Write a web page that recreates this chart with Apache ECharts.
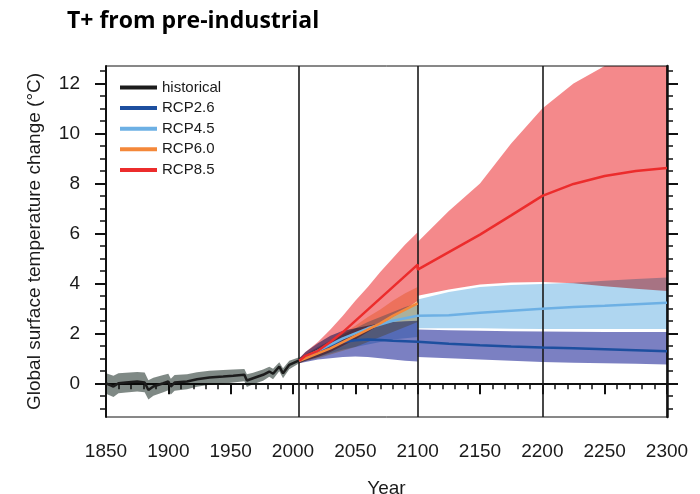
<!DOCTYPE html>
<html>
<head>
<meta charset="utf-8">
<script src="https://cdn.jsdelivr.net/npm/echarts@6/dist/echarts.min.js"></script>
<style>
  html, body { margin: 0; padding: 0; background: #fff; }
  #chart { width: 700px; height: 494px; }
</style>
</head>
<body>
<div id="chart"></div>
<script>
// historical (1850-2005)
var histYears = [1850, 1856, 1860, 1866, 1875, 1881, 1884, 1888, 1896, 1900, 1902, 1905, 1915, 1923, 1933, 1944, 1952, 1961, 1963, 1968, 1976, 1981, 1984, 1989, 1992, 1997, 2005];
var histMid = [0.0, -0.13, 0.0, 0.03, 0.07, 0.03, -0.27, -0.13, 0.0, 0.07, -0.13, 0.03, 0.07, 0.16, 0.23, 0.27, 0.3, 0.34, 0.11, 0.2, 0.34, 0.47, 0.38, 0.67, 0.4, 0.74, 0.92];
var histHi = [0.4, 0.3, 0.4, 0.42, 0.45, 0.43, 0.12, 0.22, 0.33, 0.38, 0.18, 0.33, 0.36, 0.44, 0.5, 0.53, 0.55, 0.57, 0.36, 0.42, 0.55, 0.66, 0.58, 0.84, 0.6, 0.9, 1.04];
var histLo = [-0.42, -0.55, -0.4, -0.37, -0.33, -0.36, -0.65, -0.5, -0.36, -0.28, -0.45, -0.3, -0.24, -0.14, -0.06, -0.02, 0.03, 0.08, -0.15, -0.04, 0.1, 0.26, 0.16, 0.48, 0.2, 0.56, 0.8];

// projections to 2100
var nearYears = [2005, 2010, 2020, 2030, 2040, 2050, 2060, 2070, 2080, 2090, 2100];
var rcp26Mid = [0.9, 1.05, 1.3, 1.5, 1.65, 1.72, 1.75, 1.73, 1.7, 1.68, 1.66];
var rcp26Lo = [0.8, 0.85, 0.95, 1.0, 1.05, 1.07, 1.05, 1.0, 0.95, 0.9, 0.87];
var rcp26Hi = [1.0, 1.25, 1.6, 1.9, 2.1, 2.2, 2.3, 2.4, 2.45, 2.48, 2.5];
var rcp45Mid = [0.9, 1.05, 1.3, 1.55, 1.8, 2.0, 2.2, 2.35, 2.5, 2.6, 2.7];
var rcp45Lo = [0.8, 0.9, 1.05, 1.2, 1.35, 1.45, 1.55, 1.65, 1.75, 1.8, 1.85];
var rcp45Hi = [1.0, 1.15, 1.45, 1.7, 1.95, 2.2, 2.45, 2.65, 2.85, 3.05, 3.2];
var rcp60Mid = [0.9, 1.0, 1.2, 1.4, 1.65, 1.9, 2.15, 2.4, 2.7, 2.95, 3.2];
var rcp60Lo = [0.8, 0.88, 1.0, 1.15, 1.3, 1.45, 1.65, 1.85, 2.05, 2.25, 2.45];
var rcp60Hi = [1.0, 1.12, 1.4, 1.7, 2.0, 2.3, 2.65, 2.95, 3.3, 3.6, 3.85];
var rcp85Mid = [0.9, 1.1, 1.3, 1.65, 2.05, 2.5, 2.95, 3.4, 3.85, 4.3, 4.75];
var rcp85Lo = [0.8, 0.9, 1.05, 1.25, 1.5, 1.75, 2.05, 2.35, 2.65, 2.95, 3.3];
var rcp85Hi = [1.0, 1.25, 1.65, 2.15, 2.7, 3.3, 3.85, 4.45, 5.0, 5.55, 6.05];

// extensions 2100-2300
var longYears = [2100, 2125, 2150, 2175, 2200, 2225, 2250, 2275, 2300];
var rcp26LongMid = [1.64, 1.58, 1.52, 1.47, 1.43, 1.4, 1.36, 1.32, 1.28];
var rcp26LongLo = [1.05, 1.0, 0.95, 0.9, 0.85, 0.82, 0.8, 0.78, 0.75];
var rcp26LongHi = [2.15, 2.12, 2.1, 2.08, 2.07, 2.06, 2.05, 2.05, 2.05];
var rcp45LongMid = [2.62, 2.72, 2.82, 2.9, 2.98, 3.05, 3.1, 3.16, 3.22];
var rcp45LongLo = [2.2, 2.2, 2.2, 2.18, 2.17, 2.17, 2.17, 2.17, 2.17];
var rcp45LongHi = [3.35, 3.65, 3.85, 3.93, 3.97, 4.02, 4.1, 4.17, 4.23];
var rcp85LongMid = [4.55, 5.25, 5.95, 6.72, 7.5, 7.98, 8.3, 8.5, 8.62];
var rcp85LongLo = [3.5, 3.75, 3.95, 4.03, 4.05, 4.0, 3.88, 3.78, 3.69];
var rcp85LongHi = [5.65, 6.9, 8.0, 9.6, 11.0, 12.0, 12.7, 13.3, 13.8];

var yMajorTicks = [0, 2, 4, 6, 8, 10, 12];
var yMinorTicks = [-1, -0.5, 0.5, 1, 1.5, 2.5, 3, 3.5, 4.5, 5, 5.5, 6.5, 7, 7.5, 8.5, 9, 9.5, 10.5, 11, 11.5, 12.5];
var markYears = [2005, 2100, 2200];

var fontName = "'Liberation Sans', Arial, sans-serif";
var yMin = -1.35, yMax = 12.7;

function pairs(xs, ys) {
  return xs.map(function (x, i) { return [x, ys[i]]; });
}

// shaded range, drawn as one polygon with multiply blending
function band(name, years, lo, hi, color) {
  return {
    type: "custom",
    name: name,
    silent: true,
    clip: true,
    blendMode: "multiply",
    z: 1,
    data: years.map(function (y, i) { return [y, lo[i], hi[i]]; }),
    encode: { x: 0, y: [1, 2] },
    renderItem: function (params, api) {
      if (params.dataIndexInside !== 0) return null;
      var top = [], bottom = [];
      for (var i = 0; i < years.length; i++) {
        top.push(api.coord([years[i], hi[i]]));
        bottom.unshift(api.coord([years[i], lo[i]]));
      }
      var cs = params.coordSys;
      return {
        type: "polygon",
        shape: { points: top.concat(bottom) },
        clipPath: { type: "rect", shape: { x: cs.x, y: cs.y, width: cs.width, height: cs.height } },
        style: { fill: color }
      };
    }
  };
}

function line(name, data, color, width, z) {
  return {
    type: "line",
    name: name,
    data: data,
    showSymbol: false,
    symbol: "none",
    silent: true,
    z: z,
    color: color,
    itemStyle: { color: color },
    lineStyle: { color: color, width: width }
  };
}

var chart = echarts.init(document.getElementById("chart"));

var yBase = { type: "value", min: yMin, max: yMax, splitLine: { show: false } };

var option = {
  backgroundColor: "#fff",
  animation: false,
  title: {
    text: "T+ from pre-industrial",
    left: 67,
    top: 10,
    padding: 0,
    textStyle: { fontFamily: "'Open Sans', Lato, sans-serif", fontWeight: "bold", fontSize: 23, color: "#000" }
  },
  grid: {
    left: 106, right: 33, top: 66, bottom: 77,
    outerBoundsMode: "none",
    show: true, borderColor: "#111", borderWidth: 1, backgroundColor: "transparent"
  },
  legend: {
    orient: "vertical",
    left: 120,
    top: 79,
    padding: 0,
    icon: "rect",
    itemWidth: 37,
    itemHeight: 4,
    itemGap: 3.6,
    selectedMode: false,
    data: ["historical", "RCP2.6", "RCP4.5", "RCP6.0", "RCP8.5"],
    textStyle: { fontFamily: fontName, fontSize: 15, color: "#1a1a1a", lineHeight: 17 }
  },
  xAxis: {
    type: "value",
    min: 1850,
    max: 2300,
    interval: 50,
    name: "Year",
    nameLocation: "middle",
    nameGap: 62,
    nameTextStyle: { fontFamily: fontName, fontSize: 19, color: "#1a1a1a" },
    axisLine: { lineStyle: { color: "#111", width: 2 } },
    axisTick: { inside: false, length: 11, lineStyle: { color: "#111", width: 2 } },
    minorTick: { show: true, splitNumber: 5, length: 6, lineStyle: { color: "#111", width: 1.5 } },
    axisLabel: {
      fontFamily: fontName, fontSize: 19, color: "#1a1a1a", margin: 25,
      formatter: function (v) { return String(v); }
    },
    splitLine: { show: false }
  },
  yAxis: [
    Object.assign({}, yBase, {
      position: "left",
      name: "Global surface temperature change (°C)",
      nameLocation: "middle",
      nameGap: 62,
      nameTextStyle: { fontFamily: fontName, fontSize: 19, color: "#1a1a1a" },
      axisLine: { show: true, lineStyle: { color: "#111", width: 2 } },
      axisTick: { show: true, customValues: yMajorTicks, length: 11, lineStyle: { color: "#111", width: 2 } },
      axisLabel: { customValues: yMajorTicks, fontFamily: fontName, fontSize: 19, color: "#1a1a1a", margin: 26 }
    }),
    Object.assign({}, yBase, {
      position: "left",
      axisLine: { show: false },
      axisTick: { show: true, customValues: yMinorTicks, length: 6, lineStyle: { color: "#111", width: 1.5 } },
      axisLabel: { show: false }
    }),
    Object.assign({}, yBase, {
      position: "right",
      axisLine: { show: true, lineStyle: { color: "#111", width: 2.5 } },
      axisTick: { show: true, customValues: yMajorTicks, length: 11, lineStyle: { color: "#111", width: 2 } },
      axisLabel: { show: false }
    }),
    Object.assign({}, yBase, {
      position: "right",
      axisLine: { show: false },
      axisTick: { show: true, customValues: yMinorTicks, length: 6, lineStyle: { color: "#111", width: 1.5 } },
      axisLabel: { show: false }
    })
  ],
  series: [
    band("historical range", histYears, histLo, histHi, "#7f8985"),
    band("RCP8.5 range", nearYears, rcp85Lo, rcp85Hi, "#f4898b"),
    band("RCP8.5 range 2300", longYears, rcp85LongLo, rcp85LongHi, "#f4898b"),
    band("RCP6.0 range", nearYears, rcp60Lo, rcp60Hi, "#f8d3a8"),
    band("RCP4.5 range", nearYears, rcp45Lo, rcp45Hi, "#afd6f0"),
    band("RCP4.5 range 2300", longYears, rcp45LongLo, rcp45LongHi, "#afd6f0"),
    band("RCP2.6 range", nearYears, rcp26Lo, rcp26Hi, "#7b80c2"),
    band("RCP2.6 range 2300", longYears, rcp26LongLo, rcp26LongHi, "#7b80c2"),
    line("historical", pairs(histYears, histMid), "#1c1c1c", 2.5, 5),
    line("RCP2.6", pairs(nearYears, rcp26Mid).concat(pairs(longYears, rcp26LongMid)), "#1d4f9f", 2.5, 5),
    line("RCP4.5", pairs(nearYears, rcp45Mid).concat(pairs(longYears, rcp45LongMid)), "#6db0e4", 2.5, 6),
    line("RCP6.0", pairs(nearYears, rcp60Mid), "#f4883a", 2.5, 7),
    Object.assign(line("RCP8.5", pairs(nearYears, rcp85Mid).concat(pairs(longYears, rcp85LongMid)), "#ec2c2c", 2.5, 8), {
      markLine: {
        silent: true,
        symbol: "none",
        label: { show: false },
        lineStyle: { color: "#1a1a1a", width: 1.6, type: "solid" },
        data: markYears.map(function (y) { return { xAxis: y }; })
      }
    })
  ]
};

chart.setOption(option);
</script>
</body>
</html>
